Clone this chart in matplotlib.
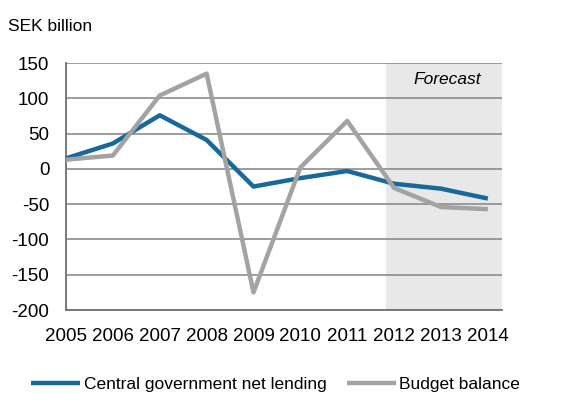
import matplotlib.pyplot as plt

years = [2005, 2006, 2007, 2008, 2009, 2010, 2011, 2012, 2013, 2014]
net_lending = [15, 36, 76, 41, -25, -13, -3, -21, -28, -42]
budget_balance = [13, 19, 104, 135, -175, 2, 68, -27, -54, -57]
yticks = [-200, -150, -100, -50, 0, 50, 100, 150]

plt.rcParams['font.family'] = ['Liberation Sans', 'DejaVu Sans']
plt.rcParams['axes.unicode_minus'] = False

fig = plt.figure(figsize=(5.82, 3.94), dpi=100)
ax = fig.add_axes([0.1134, 0.213, 0.749, 0.627])

ax.axvspan(2011.82, 2014.35, color='#e8e8e8', lw=0, zorder=0)
for t in yticks:
    ax.axhline(t, color='#8c8c8c', lw=1.2, zorder=1)

ax.plot(years, net_lending, color='#17699b', lw=3.2, solid_capstyle='butt',
        label='Central government net lending', zorder=3)
ax.plot(years, budget_balance, color='#a3a3a3', lw=3.2, solid_capstyle='butt',
        label='Budget balance', zorder=3)

ax.set_xlim(2005, 2014.3)
ax.set_ylim(-200, 150)
ax.set_yticks(yticks)
ax.set_xticks(years)
ax.tick_params(length=0, labelsize=13.5, colors='black')
ax.tick_params(axis='y', pad=12)
ax.tick_params(axis='x', pad=13)
for s in ['top', 'right']:
    ax.spines[s].set_visible(False)
for s in ['left', 'bottom']:
    ax.spines[s].set_color('#707070')
    ax.spines[s].set_linewidth(1.3)

ax.text(2013.14, 126, 'Forecast', style='italic', fontsize=12.5, ha='center', va='center')
fig.text(0.014, 0.932, 'SEK billion', fontsize=12.5, ha='left', va='center')

fig.legend(loc='center left', bbox_to_anchor=(0.054, 0.024), ncol=2, frameon=False,
           fontsize=12.5, handlelength=2.8, handletextpad=0.2, columnspacing=1.2,
           borderaxespad=0, borderpad=0)

plt.savefig('out.png', dpi=100)
